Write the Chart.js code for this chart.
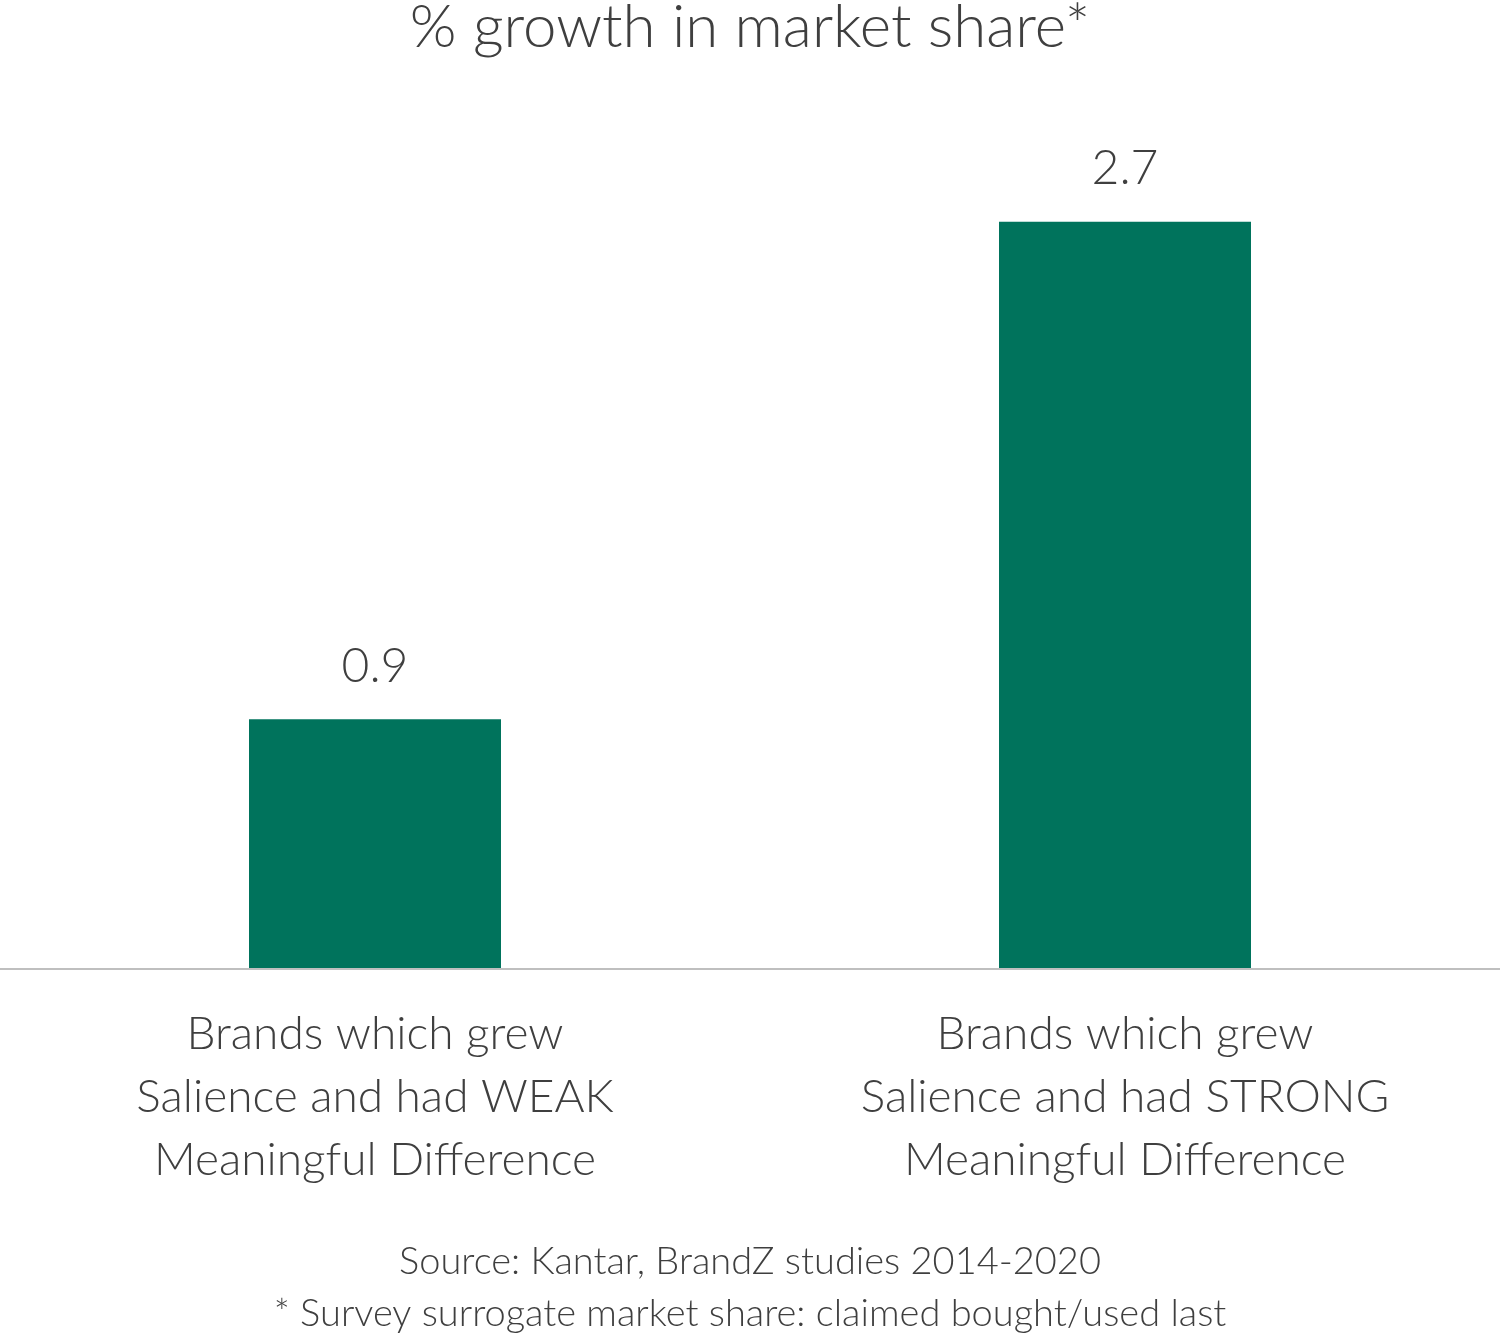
<!DOCTYPE html>
<html><head><meta charset="utf-8">
<script src="https://cdn.jsdelivr.net/npm/chart.js@4/dist/chart.umd.min.js"></script>
<style>html,body{margin:0;padding:0;background:#fff;}#wrap{position:relative;width:1500px;height:1338px;}</style>
</head><body><div id="wrap"><canvas id="c" width="1500" height="1338"></canvas></div>
<script>
const title = "% growth in market share*";
const categories = [
  ["Brands which grew", "Salience and had WEAK", "Meaningful Difference"],
  ["Brands which grew", "Salience and had STRONG", "Meaningful Difference"]
];
const values = [0.9, 2.7];
const valueLabels = ["0.9", "2.7"];
const footnotes = ["Source: Kantar, BrandZ studies 2014-2020", "* Survey surrogate market share: claimed bought/used last"];
const FONT = "Lato";
const TXT = "#3f3f3f";

const deco = {
  id: "deco",
  afterDraw(chart) {
    const ctx = chart.ctx, a = chart.chartArea, xs = chart.scales.x;
    ctx.save();
    ctx.strokeStyle = "#bfbfbf"; ctx.lineWidth = 2;
    ctx.beginPath(); ctx.moveTo(0, a.bottom + 1); ctx.lineTo(1500, a.bottom + 1); ctx.stroke();
    ctx.fillStyle = TXT; ctx.textAlign = "center"; ctx.textBaseline = "middle";
    ctx.font = `300 60px ${FONT}`;
    ctx.fillText(title, 750, 28);
    const meta = chart.getDatasetMeta(0);
    ctx.font = `300 48px ${FONT}`;
    meta.data.forEach((b, i) => ctx.fillText(valueLabels[i], b.x, b.y - 53));
    ctx.font = `300 46px ${FONT}`;
    categories.forEach((lines, i) => {
      const x = xs.getPixelForValue(i);
      lines.forEach((l, j) => ctx.fillText(l, x, 1034 + j * 63));
    });
    ctx.font = `300 38px ${FONT}`;
    footnotes.forEach((l, j) => ctx.fillText(l, 750, 1262 + j * 52));
    ctx.restore();
  }
};

new Chart(document.getElementById("c"), {
  type: "bar",
  data: { labels: categories.map(c => c.join(" ")), datasets: [{ data: values, backgroundColor: "#00735c", barPercentage: 0.336, categoryPercentage: 1 }] },
  options: {
    responsive: false, animation: false,
    layout: { padding: { top: 100, bottom: 370, left: 0, right: 0 } },
    plugins: { legend: { display: false }, tooltip: { enabled: false } },
    scales: {
      x: { display: false },
      y: { display: false, min: 0, max: 3.14 }
    }
  },
  plugins: [deco]
});
</script></body></html>
